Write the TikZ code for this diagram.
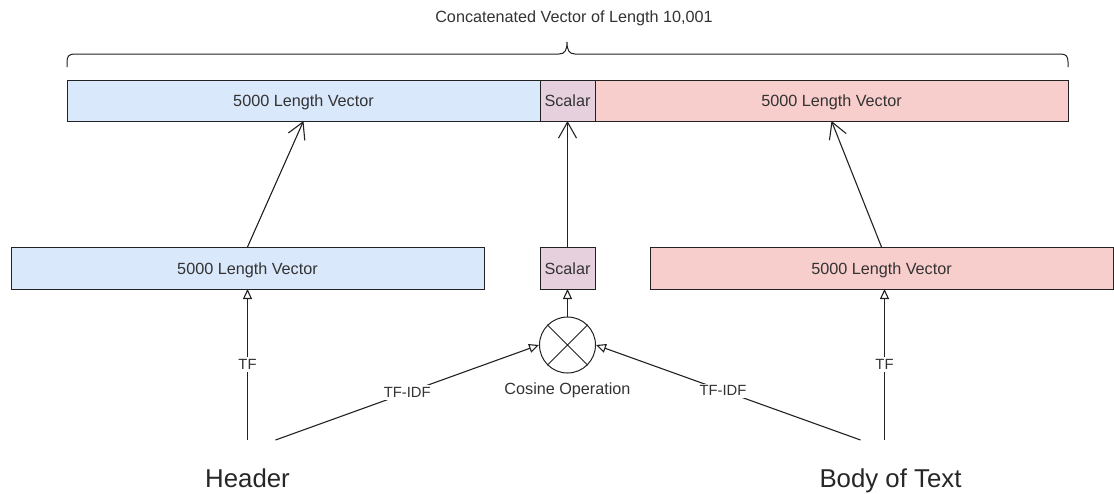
\documentclass[tikz,border=0pt]{standalone}
\usepackage{fontspec}
\setmainfont{Liberation Sans}
\usetikzlibrary{arrows.meta,positioning}

\definecolor{hdrblue}{HTML}{DAE8FC}
\definecolor{bodyred}{HTML}{F8CECC}
\definecolor{scalarpink}{HTML}{E6D0DE}
\definecolor{inkgray}{HTML}{222222}

\tikzset{
  vecbox/.style={draw=inkgray, line width=1pt, inner sep=0pt, outer sep=0pt,
    text height=12pt, text depth=0pt,
    font=\fontsize{16.2}{19}\selectfont, text=black!80},
  srcword/.style={inner sep=0pt, outer ysep=29pt, text height=18pt, text depth=5pt,
    font=\fontsize{25.8}{30}\selectfont, text=black!85},
  edgetxt/.style={fill=white, inner sep=2pt, font=\fontsize{14.8}{17}\selectfont, text=black!80},
  feed/.style={draw=inkgray, line width=1.1pt, -{Triangle[length=10pt,width=9pt,fill=white]}},
  merge/.style={draw=inkgray, line width=1.1pt, -{Straight Barb[length=16pt,width=18pt]}}
}

\begin{document}
\begin{tikzpicture}[x=1pt, y=-1pt]
  \useasboundingbox (0,0) rectangle (1114,493);

  % concatenated vector
  \node[font=\fontsize{16.2}{19}\selectfont, text=black!80] (title) at (574,18) {Concatenated Vector of Length 10,001};
  \draw[inkgray, line width=1pt] (67,67) -- (67,62) .. controls (67,56) and (69,54) .. (75,54)
    -- (559,54) .. controls (565,54) and (567,50) .. (567,42)
    .. controls (567,50) and (569,54) .. (575,54) -- (1060,54)
    .. controls (1066,54) and (1068,56) .. (1068,62) -- (1068,67);

  \node[vecbox, fill=hdrblue, minimum width=473pt, minimum height=41pt] (hvec) at (303.5,100.5) {5000 Length Vector};
  \node[vecbox, fill=scalarpink, minimum width=55pt, minimum height=41pt] (svec) at (567.5,100.5) {Scalar};
  \node[vecbox, fill=bodyred, minimum width=473pt, minimum height=41pt] (bvec) at (831.5,100.5) {5000 Length Vector};

  % per-source features
  \node[vecbox, fill=hdrblue, minimum width=473pt, minimum height=42pt] (hmid) at (247.5,268) {5000 Length Vector};
  \node[vecbox, fill=scalarpink, minimum width=55pt, minimum height=42pt] (smid) at (567.5,268) {Scalar};
  \node[vecbox, fill=bodyred, minimum width=463pt, minimum height=42pt] (bmid) at (881.5,268) {5000 Length Vector};

  \node[draw=inkgray, line width=1pt, circle, minimum size=56pt, inner sep=0pt] (cosop) at (567.5,345) {};
  \draw[inkgray, line width=1pt] (cosop.north west) -- (cosop.south east)
    (cosop.north east) -- (cosop.south west);
  \node[font=\fontsize{16.2}{19}\selectfont, text=black!80] (coslabel) at (567.5,390) {Cosine Operation};

  \node[srcword, anchor=base] (header) at (247.5,487) {Header};
  \node[srcword, anchor=base] (body) at (890.5,487) {Body of Text};

  \draw[merge] (hmid.north) -- (hvec.south);
  \draw[merge] (smid.north) -- (svec.south);
  \draw[merge] (bmid.north) -- (bvec.south);

  \draw[feed] (cosop.north) -- (smid.south);
  \draw[feed] (header.north) -- node[edgetxt] {TF} (hmid.south);
  \draw[feed] ([xshift=-6pt]body.north) -- node[edgetxt] {TF} ([xshift=3pt]bmid.south);
  \draw[feed] ([xshift=28pt]header.north) -- node[edgetxt, pos=0.5] {TF-IDF} (cosop.west);
  \draw[feed] ([xshift=-30pt]body.north) -- node[edgetxt, pos=0.52] {TF-IDF} (cosop.east);
\end{tikzpicture}
\end{document}
